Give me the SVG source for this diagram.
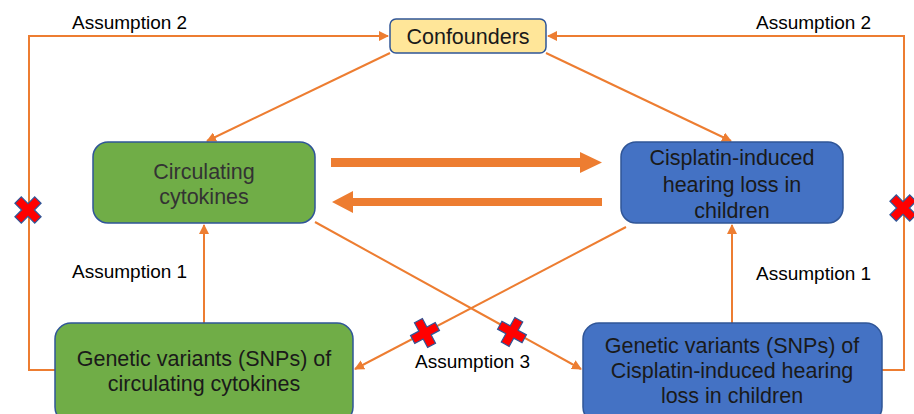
<svg xmlns="http://www.w3.org/2000/svg" width="914" height="414" viewBox="0 0 914 414">
<style>
.box{stroke:#2F5597;stroke-width:1.5}
.green{fill:#70AD47}
.blue{fill:#4472C4}
.conf{fill:#FFE699}
.t{font-family:"Liberation Sans",Arial,sans-serif;font-size:21.5px;fill:#1a1a1a;text-anchor:middle}
.lbl{font-family:"Liberation Sans",Arial,sans-serif;font-size:19px;fill:#000}
.ln{stroke:#ED7D31;stroke-width:2;fill:none}
.thick{fill:#ED7D31}
.x{fill:#FF0000;stroke:#2F5597;stroke-width:1.2}
</style>
<defs>
<marker id="ah" viewBox="0 0 10 10" refX="9" refY="5" markerWidth="5" markerHeight="5" orient="auto" markerUnits="strokeWidth">
<path d="M0,0 L10,5 L0,10 z" fill="#ED7D31"/>
</marker>
<path id="cross" d="M-4.5,-14 H4.5 V-4.5 H14 V4.5 H4.5 V14 H-4.5 V4.5 H-14 V-4.5 H-4.5 Z"/>
</defs>
<rect width="914" height="414" fill="#fff"/>
<g id="connectors">
<polyline class="ln" points="55,370 29,370 29,36 388,36" marker-end="url(#ah)"/>
<polyline class="ln" points="882,370 904,370 904,36 548,36" marker-end="url(#ah)"/>
<line class="ln" x1="390" y1="53" x2="207" y2="141" marker-end="url(#ah)"/>
<line class="ln" x1="546" y1="53" x2="731" y2="141" marker-end="url(#ah)"/>
<line class="ln" x1="204" y1="323" x2="204" y2="225" marker-end="url(#ah)"/>
<line class="ln" x1="732" y1="323" x2="732" y2="225" marker-end="url(#ah)"/>
<line class="ln" x1="315" y1="222" x2="581" y2="369" marker-end="url(#ah)"/>
<line class="ln" x1="626" y1="227" x2="355" y2="369" marker-end="url(#ah)"/>
<path class="thick" d="M331,158 H580 V152 L602,162.5 L580,173 V167 H331 Z"/>
<path class="thick" d="M602,198 H353 V191 L332,202 L353,213 V206 H602 Z"/>
</g>
<g id="crosses">
<use href="#cross" class="x" transform="translate(28,210) rotate(45)"/>
<use href="#cross" class="x" transform="translate(903,208) rotate(45)"/>
<use href="#cross" class="x" transform="translate(425,333) rotate(-28)"/>
<use href="#cross" class="x" transform="translate(512,332) rotate(29)"/>
</g>
<g id="confounders">
<rect class="box conf" x="390" y="19" width="156" height="34" rx="6"/>
<text class="t" x="468" y="44">Confounders</text>
</g>
<g id="circulating">
<rect class="box green" x="93" y="142" width="222" height="81" rx="15"/>
<text class="t" x="204" y="179" style="fill:#333">Circulating</text>
<text class="t" x="204" y="204" style="fill:#333">cytokines</text>
</g>
<g id="cisplatin">
<rect class="box blue" x="621" y="142" width="222" height="81" rx="15"/>
<text class="t" x="732" y="165">Cisplatin-induced</text>
<text class="t" x="732" y="192">hearing loss in</text>
<text class="t" x="732" y="218">children</text>
</g>
<g id="snp-cytokines">
<rect class="box green" x="55" y="323" width="298" height="100" rx="16"/>
<text class="t" x="204" y="366">Genetic variants (SNPs) of</text>
<text class="t" x="204" y="391">circulating cytokines</text>
</g>
<g id="snp-cisplatin">
<rect class="box blue" x="583" y="323" width="299" height="100" rx="16"/>
<text class="t" x="732" y="353">Genetic variants (SNPs) of</text>
<text class="t" x="732" y="378">Cisplatin-induced hearing</text>
<text class="t" x="732" y="403">loss in children</text>
</g>
<g id="labels">
<text class="lbl" x="72" y="29">Assumption 2</text>
<text class="lbl" x="756" y="29">Assumption 2</text>
<text class="lbl" x="72" y="278">Assumption 1</text>
<text class="lbl" x="756" y="280">Assumption 1</text>
<text class="lbl" x="415" y="368">Assumption 3</text>
</g>
</svg>
